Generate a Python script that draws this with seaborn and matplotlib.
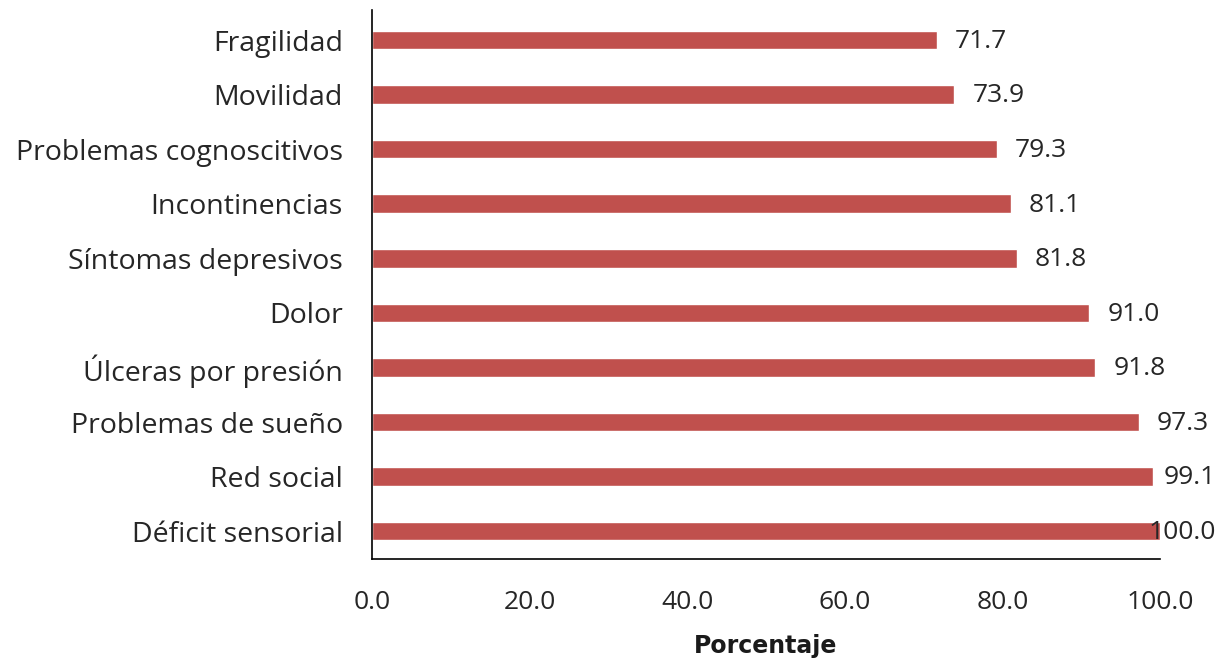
import matplotlib
matplotlib.use("Agg")
import matplotlib.pyplot as plt
import seaborn as sns
import pandas as pd

categories = ["Fragilidad", "Movilidad", "Problemas cognoscitivos", "Incontinencias",
              "Síntomas depresivos", "Dolor", "Úlceras por presión", "Problemas de sueño",
              "Red social", "Déficit sensorial"]
values = [71.7, 73.9, 79.3, 81.1, 81.8, 91.0, 91.8, 97.3, 99.1, 100.0]
xticks = [0, 20, 40, 60, 80, 100]

sns.set_theme(style="white")
plt.rcParams['font.family'] = ['Open Sans', 'DejaVu Sans']

df = pd.DataFrame({"cat": categories, "val": values})

fig = plt.figure(figsize=(12.27, 6.66), dpi=100)
ax = fig.add_axes([372/1227, 1-559/666, (1160-372)/1227, (559-10)/666])
sns.barplot(data=df, x="val", y="cat", color="#C0504D", width=0.34, ax=ax,
            saturation=1, orient="h")
ax.set_xlim(0, 100)
ax.set_ylim(9.51, -0.55)
ax.set_xticks(xticks)
ax.set_xticklabels([f"{t:.1f}" for t in xticks])
ax.tick_params(axis="x", length=0, pad=22, labelsize=19, colors="#262626")
ax.tick_params(axis="y", length=0, pad=21, labelsize=20.5, colors="#262626")
ax.set_ylabel("")
ax.set_xlabel("Porcentaje", fontsize=17, fontweight="bold", labelpad=14,
              family=["DejaVu Sans"], color="#1a1a1a")
for s in ["top", "right"]:
    ax.spines[s].set_visible(False)
for s in ["left", "bottom"]:
    ax.spines[s].set_color("black")
    ax.spines[s].set_linewidth(1.2)

texts = []
for i, v in enumerate(values):
    t = ax.annotate(f"{v:.1f}", xy=(v, i), xytext=(13, -1), textcoords="offset points",
                    ha="left", va="center", fontsize=19, color="#262626",
                    annotation_clip=False)
    texts.append(t)

fig.canvas.draw()
r = fig.canvas.get_renderer()
limit = 1216
for t in texts:
    bb = t.get_window_extent(r)
    if bb.x1 > limit:
        dx = (bb.x1 - limit) * 72 / fig.dpi
        ox, oy = t.xyann
        t.xyann = (ox - dx, oy)

fig.savefig("out.png", dpi=100, facecolor="white")
